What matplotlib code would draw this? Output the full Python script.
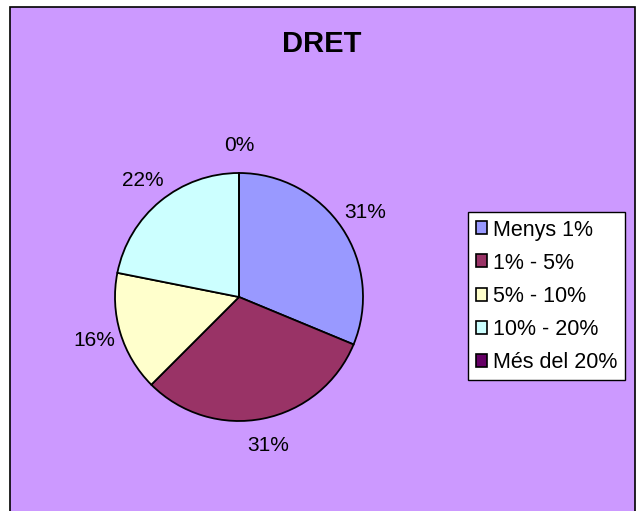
import matplotlib
matplotlib.use("Agg")
import matplotlib.pyplot as plt
from matplotlib.patches import Patch, Rectangle

plt.rcParams["font.family"] = ["Liberation Sans", "DejaVu Sans"]

# chart data (counts per bucket)
categories = ["Menys 1%", "1% - 5%", "5% - 10%", "10% - 20%", "Més del 20%"]
counts = [10, 10, 5, 7, 0]
colors = ["#9999FF", "#993366", "#FFFFCC", "#CCFFFF", "#660066"]
title = "DRET"

W, H = 640, 511
fig = plt.figure(figsize=(W / 100, H / 100), dpi=100)
fig.patch.set_facecolor("white")

# purple chart area with black frame
fig.patches.append(Rectangle((10 / W, -0.01), (635 - 10) / W, 1 - 7 / H + 0.01,
                             transform=fig.transFigure, facecolor="#CC99FF",
                             edgecolor="black", linewidth=1.2, zorder=-5))

# pie centre (239, 297) px, radius 124 px
cx, cy, r = 239, 297, 124
ax = fig.add_axes([(cx - r) / W, (H - cy - r) / H, 2 * r / W, 2 * r / H])
ax.set_zorder(2)
ax.set_facecolor("none")
ax.pie(counts, colors=colors, startangle=90, counterclock=False, radius=1,
       autopct=lambda p: f"{p:.0f}%", pctdistance=1.22,
       wedgeprops=dict(edgecolor="black", linewidth=1.3),
       textprops=dict(fontsize=15, color="black"))
ax.set_xlim(-1, 1)
ax.set_ylim(-1, 1)
ax.set_aspect("auto")
ax.axis("off")

fig.text(322 / W, 1 - 44 / H, title, ha="center", va="center",
         fontsize=21, fontweight="bold")

handles = [Patch(facecolor=c, edgecolor="black", linewidth=1.2) for c in colors]
leg = fig.legend(handles, categories, loc="upper left",
                 bbox_to_anchor=(468 / W, 1 - 212 / H), fontsize=15.5,
                 frameon=True, fancybox=False, framealpha=1, edgecolor="black",
                 handlelength=0.55, handleheight=0.55, handletextpad=0.25,
                 labelspacing=0.56, borderpad=0.35, borderaxespad=0)
leg.get_frame().set_linewidth(1.0)
leg.set_zorder(3)

fig.savefig("out.png", dpi=100)
